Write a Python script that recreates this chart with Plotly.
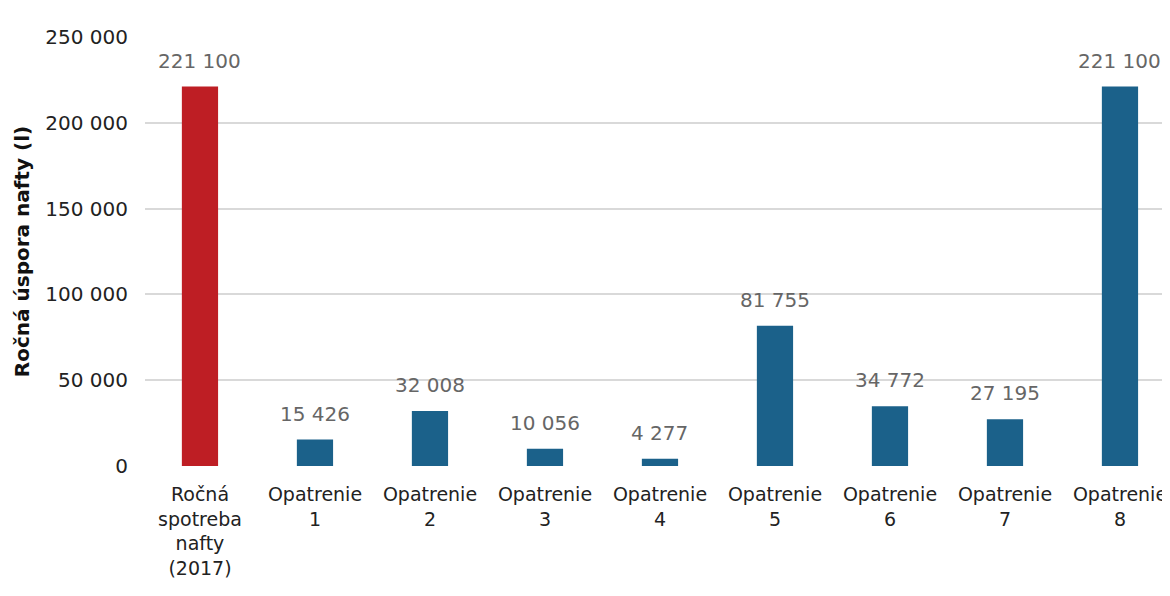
import plotly.graph_objects as go

categories = ["Ročná<br>spotreba<br>nafty<br>(2017)", "Opatrenie<br>1", "Opatrenie<br>2",
              "Opatrenie<br>3", "Opatrenie<br>4", "Opatrenie<br>5", "Opatrenie<br>6",
              "Opatrenie<br>7", "Opatrenie<br>8"]
values = [221100, 15426, 32008, 10056, 4277, 81755, 34772, 27195, 221100]
bar_colors = ["#BE1E24"] + ["#1B618A"] * 8
y_ticks = [0, 50000, 100000, 150000, 200000, 250000]

fig = go.Figure()
fig.add_trace(go.Bar(x=categories, y=values, marker_color=bar_colors,
                     marker_line_width=0, width=0.315, hoverinfo="skip"))

for c, v in zip(categories, values):
    fig.add_annotation(x=c, y=v, text=f"{v:,}".replace(",", " "), showarrow=False,
                       yanchor="bottom", yshift=12,
                       font=dict(size=20, color="#666666", family="DejaVu Sans"))

# page body has an 8px margin, so size and margins are shifted to compensate
fig.update_layout(
    width=1162, height=580,
    margin=dict(l=137, r=0, t=29, b=122),
    plot_bgcolor="white", paper_bgcolor="white",
    separators=", ",
    showlegend=False,
    font=dict(family="DejaVu Sans", size=20, color="#222222"),
)
fig.update_xaxes(range=[-0.478, 8.435], showgrid=False, ticks="", showline=False,
                 automargin=False, ticklabelstandoff=15,
                 tickfont=dict(size=19, color="#222222"))
fig.update_yaxes(range=[0, 250000], tickvals=y_ticks, tickformat=",",
                 gridcolor="#D9D9D9", gridwidth=1.5, zeroline=False, showline=False,
                 ticks="", ticklabelstandoff=16, automargin=False,
                 tickfont=dict(size=20, color="#222222"),
                 title=dict(text="<b>Ročná úspora nafty (l)</b>", standoff=10,
                            font=dict(size=20, color="#111111")))

fig.write_html("out.html")
